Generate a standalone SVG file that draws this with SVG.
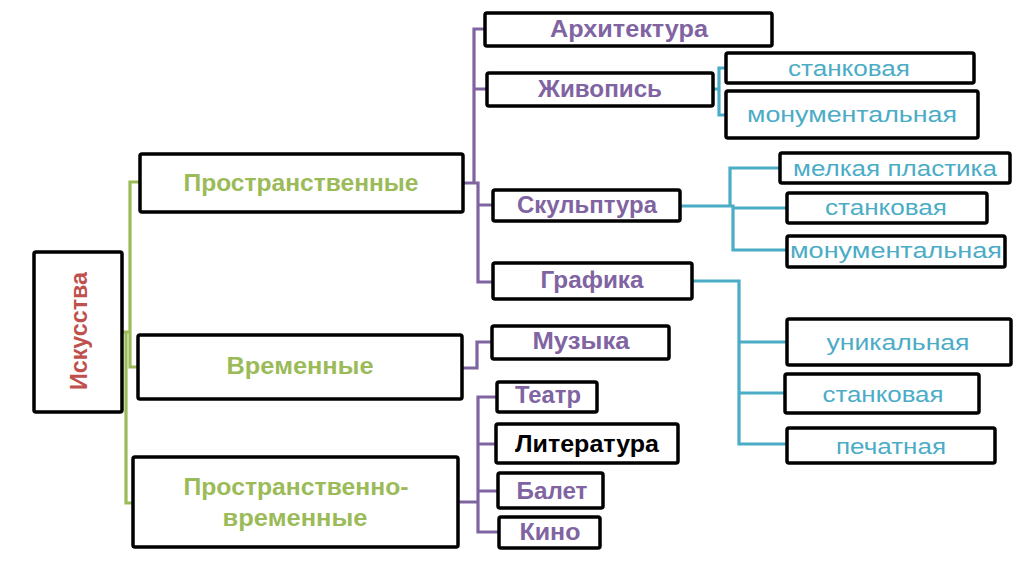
<svg xmlns="http://www.w3.org/2000/svg" width="1020" height="568" viewBox="0 0 1020 568">
<style>
.box{fill:#fff;stroke:#000;stroke-width:3.5}
.b{font-family:"Liberation Sans",Arial,sans-serif;font-weight:bold;font-size:23px;text-anchor:middle}
.r{font-family:"Liberation Sans",Arial,sans-serif;font-size:22px;text-anchor:middle;fill:#4BACC6}
.g{fill:#9BBB59}
.p{fill:#8064A2}
.k{fill:#000}
.red{fill:#C0504D}
.cn{fill:none;stroke-width:3.2}
</style>
<rect width="1020" height="568" fill="#fff"/>
<g id="connectors">
<path class="cn" stroke="#9BBB59" d="M140,182 H130 V367 H138 M122,332 H130 M126,332 V503 H133"/>
<path class="cn" stroke="#8064A2" d="M486,29 H474 V183 M486,89 H474 M463,183 H478 V282 H493 M478,205 H493"/>
<path class="cn" stroke="#8064A2" d="M462,368 H477 V342 H492"/>
<path class="cn" stroke="#8064A2" d="M458,502 H478 M497,397 H478 V532 H499 M478,444 H496 M478,491 H498"/>
<path class="cn" stroke="#4BACC6" d="M713,89 H719 M727,68 H719 V115 H726"/>
<path class="cn" stroke="#4BACC6" d="M680,206 H730 V168 H780 M730,206 H733 V250 H787 M733,208 H787"/>
<path class="cn" stroke="#4BACC6" d="M692,281 H739 V444 H787 M739,342 H787 M739,393 H785"/>
</g>
<g id="n-iskusstva"><rect class="box" x="34" y="252" width="88" height="160" rx="2"/><text class="b red" font-size="25" transform="translate(87,331) rotate(-90)" textLength="118" lengthAdjust="spacingAndGlyphs">Искусства</text></g>
<g id="n-prostr"><rect class="box" x="140" y="154" width="323" height="58" rx="2"/><text class="b g" x="301" y="191" font-size="25" textLength="235" lengthAdjust="spacingAndGlyphs">Пространственные</text></g>
<g id="n-vrem"><rect class="box" x="138" y="335" width="324" height="64" rx="2"/><text class="b g" x="300" y="374" font-size="25" textLength="147" lengthAdjust="spacingAndGlyphs">Временные</text></g>
<g id="n-prvr"><rect class="box" x="133" y="457" width="325" height="90" rx="2"/><text class="b g" x="296" y="495" font-size="25" textLength="225" lengthAdjust="spacingAndGlyphs">Пространственно-</text><text class="b g" x="295" y="526" font-size="25" textLength="145" lengthAdjust="spacingAndGlyphs">временные</text></g>
<g id="n-arch"><rect class="box" x="485" y="13" width="287" height="33" rx="2"/><text class="b p" x="629" y="37" textLength="158" lengthAdjust="spacingAndGlyphs">Архитектура</text></g>
<g id="n-zhiv"><rect class="box" x="487" y="73" width="226" height="33" rx="2"/><text class="b p" x="600" y="97" textLength="124" lengthAdjust="spacingAndGlyphs">Живопись</text></g>
<g id="n-stank1"><rect class="box" x="726" y="53" width="248" height="30" rx="2"/><text class="r" x="849" y="76" textLength="122" lengthAdjust="spacingAndGlyphs">станковая</text></g>
<g id="n-monum1"><rect class="box" x="726" y="91" width="252" height="47" rx="2"/><text class="r" x="852" y="122" textLength="210" lengthAdjust="spacingAndGlyphs">монументальная</text></g>
<g id="n-skulp"><rect class="box" x="493" y="190" width="187" height="31" rx="2"/><text class="b p" x="587" y="213" textLength="140" lengthAdjust="spacingAndGlyphs">Скульптура</text></g>
<g id="n-melk"><rect class="box" x="780" y="153" width="230" height="30" rx="2"/><text class="r" x="895" y="176" textLength="204" lengthAdjust="spacingAndGlyphs">мелкая пластика</text></g>
<g id="n-stank2"><rect class="box" x="787" y="193" width="200" height="30" rx="2"/><text class="r" x="886" y="215" textLength="122" lengthAdjust="spacingAndGlyphs">станковая</text></g>
<g id="n-monum2"><rect class="box" x="787" y="236" width="218" height="31" rx="2"/><text class="r" x="896" y="258" textLength="212" lengthAdjust="spacingAndGlyphs">монументальная</text></g>
<g id="n-graf"><rect class="box" x="493" y="263" width="199" height="36" rx="2"/><text class="b p" x="592" y="288" textLength="103" lengthAdjust="spacingAndGlyphs">Графика</text></g>
<g id="n-unik"><rect class="box" x="787" y="319" width="224" height="46" rx="2"/><text class="r" x="898" y="350" textLength="143" lengthAdjust="spacingAndGlyphs">уникальная</text></g>
<g id="n-stank3"><rect class="box" x="785" y="374" width="194" height="39" rx="2"/><text class="r" x="883" y="402" textLength="121" lengthAdjust="spacingAndGlyphs">станковая</text></g>
<g id="n-pech"><rect class="box" x="787" y="428" width="208" height="35" rx="2"/><text class="r" x="891" y="454" textLength="110" lengthAdjust="spacingAndGlyphs">печатная</text></g>
<g id="n-muz"><rect class="box" x="492" y="326" width="177" height="33" rx="2"/><text class="b p" x="581" y="349" textLength="97" lengthAdjust="spacingAndGlyphs">Музыка</text></g>
<g id="n-teatr"><rect class="box" x="497" y="382" width="100" height="30" rx="2"/><text class="b p" x="548" y="403" textLength="66" lengthAdjust="spacingAndGlyphs">Театр</text></g>
<g id="n-lit"><rect class="box" x="496" y="424" width="182" height="39" rx="2"/><text class="b k" x="587" y="452" textLength="144" lengthAdjust="spacingAndGlyphs">Литература</text></g>
<g id="n-balet"><rect class="box" x="498" y="473" width="105" height="35" rx="2"/><text class="b p" x="552" y="499" textLength="71" lengthAdjust="spacingAndGlyphs">Балет</text></g>
<g id="n-kino"><rect class="box" x="499" y="517" width="101" height="31" rx="2"/><text class="b p" x="550" y="540" textLength="61" lengthAdjust="spacingAndGlyphs">Кино</text></g>
</svg>
